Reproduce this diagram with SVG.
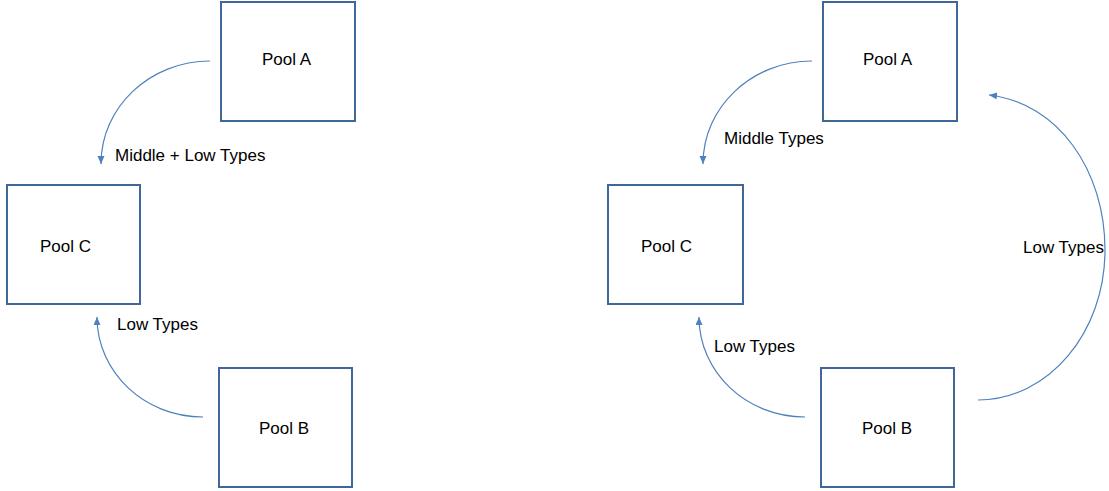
<svg xmlns="http://www.w3.org/2000/svg" width="1109" height="491" viewBox="0 0 1109 491">
<style>
.box{fill:#ffffff;stroke:#41679a;stroke-width:2}
.lbl{font-family:"Liberation Sans",Arial,sans-serif;font-size:17px;fill:#000000}
.conn{fill:none;stroke:#4f81bd;stroke-width:1.2;marker-end:url(#ah)}
</style>
<defs>
<marker id="ah" markerUnits="userSpaceOnUse" markerWidth="9" markerHeight="8" refX="8" refY="3.5" orient="auto">
<path d="M0,0 L8,3.5 L0,7 z" fill="#4f81bd"/>
</marker>
</defs>
<rect width="1109" height="491" fill="#ffffff"/>
<g id="connectors">
<path class="conn" d="M210,61 C150,61 101,107 101,164"/>
<path class="conn" d="M203,417 C144,417 97,372 97,317"/>
<path class="conn" d="M812,61 C752,61 703,107 703,164"/>
<path class="conn" d="M805,417 C746,417 699,372 699,317"/>
<path class="conn" d="M978,400 C1048,400 1105,333 1105,250 C1105,170 1058,103 989,95"/>
</g>
<g id="labels">
<text class="lbl" x="115" y="161">Middle + Low Types</text>
<text class="lbl" x="117" y="330">Low Types</text>
<text class="lbl" x="724" y="144">Middle Types</text>
<text class="lbl" x="714" y="352">Low Types</text>
<text class="lbl" x="1023" y="253">Low Types</text>
</g>
<g id="left-pool-a"><rect class="box" x="221" y="2" width="134" height="119"/><text class="lbl" x="262" y="65">Pool A</text></g>
<g id="left-pool-c"><rect class="box" x="7" y="185" width="133" height="119"/><text class="lbl" x="40" y="252">Pool C</text></g>
<g id="left-pool-b"><rect class="box" x="219" y="368" width="133" height="119"/><text class="lbl" x="259" y="434">Pool B</text></g>
<g id="right-pool-a"><rect class="box" x="823" y="2" width="134" height="119"/><text class="lbl" x="863" y="65">Pool A</text></g>
<g id="right-pool-c"><rect class="box" x="608" y="185" width="135" height="119"/><text class="lbl" x="641" y="252">Pool C</text></g>
<g id="right-pool-b"><rect class="box" x="821" y="368" width="133" height="119"/><text class="lbl" x="862" y="434">Pool B</text></g>
</svg>
